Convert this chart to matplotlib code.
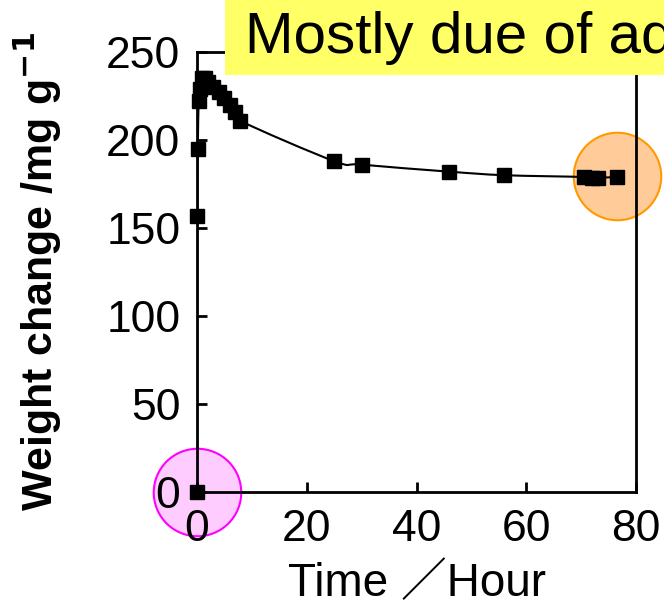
import numpy as np
import matplotlib
matplotlib.use("Agg")
import matplotlib.pyplot as plt
from matplotlib.path import Path
from matplotlib.patches import PathPatch, Rectangle

# data
hours = [0, 0.05, 0.15, 0.3, 0.5, 1, 1.5, 2, 3, 4, 5, 6, 7, 7.8,
         25, 30, 46, 56, 70.5, 72, 73, 76.5]
weight = [0, 157, 195, 222, 229, 235, 235, 233, 230, 227, 224, 220, 216, 211,
          188, 186, 182, 180, 179, 178.5, 178.5, 179]

x_ticks = [0, 20, 40, 60, 80]
y_ticks = [0, 50, 100, 150, 200, 250]

# highlighted points (start and end of run)
start_pt = (hours[0], weight[0])
end_pt = (76.5, 179.5)

gothic = ["Liberation Sans", "Noto Sans CJK JP", "DejaVu Sans"]


def smooth_path(xs, ys):
    """Excel-like smoothed line: cubic Bezier through every point."""
    n = len(xs)
    verts = [(xs[0], ys[0])]
    codes = [Path.MOVETO]
    for i in range(n - 1):
        a = max(i - 1, 0)
        b = min(i + 2, n - 1)
        c1 = (xs[i] + (xs[i + 1] - xs[a]) / 6., ys[i] + (ys[i + 1] - ys[a]) / 6.)
        c2 = (xs[i + 1] - (xs[b] - xs[i]) / 6., ys[i + 1] - (ys[b] - ys[i]) / 6.)
        verts += [c1, c2, (xs[i + 1], ys[i + 1])]
        codes += [Path.CURVE4] * 3
    return Path(verts, codes)


fig = plt.figure(figsize=(6.64, 6.09), dpi=100)
ax = fig.add_axes([197 / 664, 117 / 609, 439 / 664, 440 / 609])

# highlight circles
ax.plot(*start_pt, "o", ms=63, mfc="#ffccff", mec="#ff00ff", mew=1.5,
        zorder=1, clip_on=False)
ax.plot(*end_pt, "o", ms=63, mfc="#ffcc99", mec="#ff9900", mew=1.5,
        zorder=1, clip_on=False)

ax.add_patch(PathPatch(smooth_path(hours, weight), fc="none", ec="black",
                       lw=1.5, zorder=2))
ax.plot(hours, weight, "s", color="black", ms=9.5, zorder=3, clip_on=False)

ax.set_xlim(0, 80)
ax.set_ylim(0, 250)
ax.set_xticks(x_ticks)
ax.set_yticks(y_ticks)
for s in ax.spines.values():
    s.set_linewidth(2)
ax.tick_params(direction="in", length=7, width=2, labelsize=32, pad=12)
for lab in ax.get_xticklabels() + ax.get_yticklabels():
    lab.set_family(gothic)

ax.set_xlabel("Time ／Hour", fontsize=33, family=gothic, labelpad=9)
ax.set_ylabel("Weight change /mg g$^{\\mathbf{-1}}$", fontsize=31,
              fontweight="bold", family="Liberation Sans", labelpad=30)

# yellow note box, cut off by the right edge
fig.patches.append(Rectangle((225 / 664, 534 / 609), 1, 1, transform=fig.transFigure,
                             fc="#ffff66", ec="none", zorder=5))
fig.text(245 / 664, 556 / 609, "Mostly due of adsorption", fontsize=42,
         family=gothic, va="baseline", zorder=6)

fig.savefig("out.png", dpi=100)
